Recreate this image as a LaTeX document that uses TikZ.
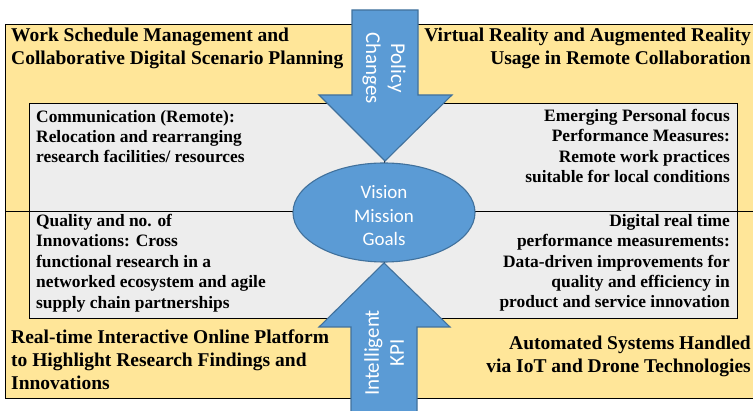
\documentclass[tikz,border=0pt]{standalone}
\usepackage{fontspec}
\setmainfont{Liberation Serif}
\newfontfamily\calibri{Carlito}
\usetikzlibrary{shapes.geometric}

\definecolor{quadyellow}{HTML}{FFE699}
\definecolor{boxgray}{HTML}{EDEDED}
\definecolor{arrowblue}{HTML}{5B9BD5}
\definecolor{arrowedge}{HTML}{41719C}

\tikzset{
  title/.style = {font=\fontsize{19.5}{23}\selectfont\bfseries, inner sep=0pt},
  detail/.style = {font=\fontsize{17.4}{20.4}\selectfont\bfseries, inner sep=0pt},
  bluefill/.style = {fill=arrowblue, draw=arrowedge, line width=1.1pt},
  bluetext/.style = {text=white, font=\fontsize{21}{25}\selectfont\calibri, align=center, inner sep=0pt}
}

\begin{document}
\begin{tikzpicture}[x=1pt, y=-1pt]
    \useasboundingbox (0,0) rectangle (753,411);
    \clip (0,0) rectangle (753,411);
    % quadrants and inner boxes
    \draw[fill=quadyellow, line width=0.8pt] (5,24) rectangle (770,398);
    \draw[fill=boxgray, line width=0.8pt] (29,103) rectangle (737,318);
    \draw[line width=0.8pt] (5,211) -- (770,211);
    \draw[line width=0.8pt] (384,24) -- (384,398);

    \node[
    title,
    anchor = west,
    align = left
    ] (worksched) at (11,48){Work Schedule Management and\\Collaborative Digital Scenario Planning};
    \node[
    title,
    anchor = east,
    align = right
    ] (vrar) at (751,48){Virtual Reality and Augmented Reality\\Usage in Remote Collaboration};
    \node[
    title,
    anchor = west,
    align = left
    ] (platform) at (11,360){Real-time Interactive Online Platform\\to Highlight Research Findings and\\Innovations};
    \node[
    title,
    anchor = east,
    align = right
    ] (automated) at (751,356){Automated Systems Handled\\via IoT and Drone Technologies};

    \node[
    detail,
    anchor = west,
    align = left
    ] (comm) at (36,136.5){Communication (Remote):\\Relocation and rearranging\\research facilities/ resources};
    \node[
    detail,
    anchor = east,
    align = right
    ] (personal) at (730,146){Emerging Personal focus\\Performance Measures:\\Remote work practices\\suitable for local conditions};
    \node[
    detail,
    anchor = west,
    align = left
    ] (quality) at (36,263){Quality and no. of\\Innovations: Cross\\functional research in a\\networked ecosystem and agile\\supply chain partnerships};
    \node[
    detail,
    anchor = east,
    align = right
    ] (digital) at (730,263){Digital real time\\performance measurements:\\Data-driven improvements for\\quality and efficiency in\\product and service innovation};

    % block arrows and centre
    \filldraw[bluefill] (352,10) -- (418,10) -- (418,95) -- (452,95) -- (385,161) -- (319,95) -- (352,95) -- cycle;
    \filldraw[bluefill] (351,420) -- (351,327) -- (319,327) -- (384,263) -- (450,327) -- (417,327) -- (417,420) -- cycle;
    \node[
    ellipse,
    bluefill,
    minimum width = 182pt,
    minimum height = 99pt
    ] (goals) at (384,212.5){};
    \node[
    bluetext,
    font = \fontsize{19}{23.5}\selectfont\calibri
    ] (goaltext) at (384,216){Vision\\Mission\\Goals};
    \node[bluetext, rotate=-90] (policy) at (384,68){Policy\\Changes};
    \node[bluetext, rotate=90] (kpi) at (384,353){Intelligent\\KPI};
\end{tikzpicture}
\end{document}
